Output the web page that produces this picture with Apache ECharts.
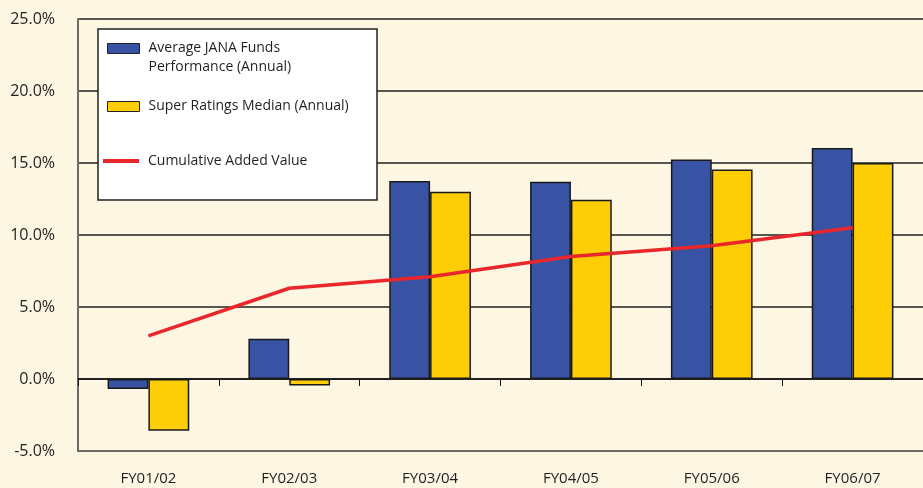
<!DOCTYPE html>
<html><head><meta charset="utf-8">
<script src="https://cdn.jsdelivr.net/npm/echarts@6/dist/echarts.min.js"></script>
<style>html,body{margin:0;padding:0;background:#fdf6e3}#c{width:923px;height:488px}</style>
</head><body><div id="c"></div>
<script>
const categories = ['FY01/02','FY02/03','FY03/04','FY04/05','FY05/06','FY06/07'];
const janaPerf = [-0.7, 2.8, 13.75, 13.7, 15.25, 16.05];
const superRatings = [-3.6, -0.45, 13.0, 12.45, 14.55, 15.0];
const cumulativeAdded = [3.0, 6.3, 7.1, 8.5, 9.25, 10.5];
const yTicks = {min: -5, max: 25, interval: 5};
const seriesNames = ['Average JANA Funds Performance (Annual)', 'Super Ratings Median (Annual)', 'Cumulative Added Value'];

const FONT = 'Open Sans';
const txt = '#231f20';
const chart = echarts.init(document.getElementById('c'));
const legendText = {fontFamily: FONT, fontSize: 14, color: txt, lineHeight: 19};
chart.setOption({
  backgroundColor: '#fdf6e3',
  animation: false,
  grid: {left: 78, top: 19, bottom: 37, right: -9},
  graphic: [{
    type: 'rect', z: 3,
    shape: {x: 98, y: 29, width: 279, height: 171},
    style: {fill: '#ffffff', stroke: '#222', lineWidth: 1.5}
  }],
  legend: [
    {data: [seriesNames[0]], left: 107, top: 20, orient: 'vertical', padding: 0, z: 5,
     icon: 'rect', itemWidth: 32, itemHeight: 10,
     itemStyle: {borderColor: '#222', borderWidth: 1},
     formatter: () => ' \nAverage JANA Funds\nPerformance (Annual)',
     textStyle: Object.assign({}, legendText, {padding: [0, 0, 0, 4]})},
    {data: [seriesNames[1]], left: 107, top: 97, padding: 0, z: 5,
     icon: 'rect', itemWidth: 32, itemHeight: 10,
     itemStyle: {borderColor: '#222', borderWidth: 1},
     textStyle: Object.assign({}, legendText, {padding: [0, 0, 0, 4]})},
    {data: [seriesNames[2]], left: 103, top: 149, padding: 0, z: 5,
     icon: 'rect', itemWidth: 36, itemHeight: 4,
     textStyle: Object.assign({}, legendText, {padding: [5, 0, 0, 4]})}
  ],
  xAxis: [
    {type: 'category', data: categories, position: 'bottom',
     axisLine: {onZero: false, lineStyle: {color: '#6d6a66', width: 2}},
     axisTick: {show: false},
     axisLabel: {fontFamily: FONT, fontSize: 15, color: txt, margin: 20}},
    {type: 'category', data: categories, position: 'bottom',
     axisLine: {onZero: true, lineStyle: {color: '#111', width: 1.5}},
     axisTick: {show: true, length: 7, lineStyle: {color: '#111', width: 1}},
     axisLabel: {show: false}}
  ],
  yAxis: {
    type: 'value', min: yTicks.min, max: yTicks.max, interval: yTicks.interval,
    axisLine: {show: true, lineStyle: {color: '#6d6a66', width: 2}},
    axisTick: {show: false},
    splitLine: {lineStyle: {color: '#222', width: 1.5}},
    axisLabel: {fontFamily: FONT, fontSize: 16, color: txt, margin: 23,
      formatter: v => v.toFixed(1) + '%'}
  },
  series: [
    {name: seriesNames[0], type: 'bar', data: janaPerf, barGap: '0%', barCategoryGap: '42%',
     itemStyle: {color: '#3953a4', borderColor: '#1a1a1a', borderWidth: 1.5}},
    {name: seriesNames[1], type: 'bar', data: superRatings, barGap: '0%', barCategoryGap: '42%',
     itemStyle: {color: '#fdcd05', borderColor: '#1a1a1a', borderWidth: 1.5}},
    {name: seriesNames[2], type: 'line', data: cumulativeAdded, symbol: 'none', z: 4,
     lineStyle: {color: '#e8262c', width: 3.5}, itemStyle: {color: '#e8262c'}}
  ]
});
</script></body></html>
